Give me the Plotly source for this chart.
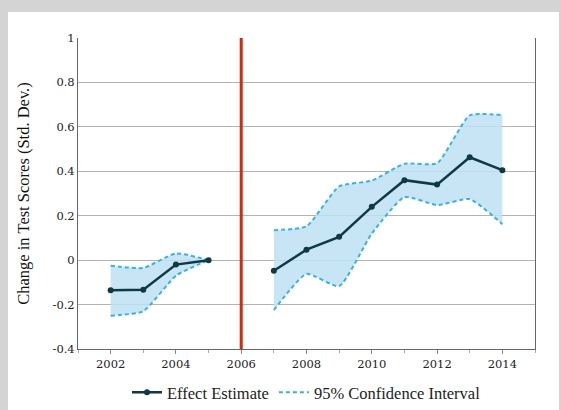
import plotly.graph_objects as go

# ---- data ----
years_pre = [2002, 2003, 2004, 2005]
effect_pre = [-0.135, -0.133, -0.02, 0.0]
upper_pre = [-0.025, -0.035, 0.03, 0.0]
lower_pre = [-0.25, -0.23, -0.07, 0.0]

years_post = [2007, 2008, 2009, 2010, 2011, 2012, 2013, 2014]
effect_post = [-0.048, 0.047, 0.105, 0.24, 0.36, 0.34, 0.463, 0.405]
upper_post = [0.135, 0.152, 0.332, 0.358, 0.434, 0.436, 0.652, 0.653]
lower_post = [-0.225, -0.062, -0.117, 0.12, 0.284, 0.248, 0.275, 0.162]

policy_year = 2006
x_ticks = [2002, 2004, 2006, 2008, 2010, 2012, 2014]
y_ticks = [-0.4, -0.2, 0, 0.2, 0.4, 0.6, 0.8, 1]
y_ticktext = ["-0.4", "-0.2", "0", "0.2", "0.4", "0.6", "0.8", "1"]

# ---- styling ----
FONT = "Liberation Serif"
TICKFONT = "DejaVu Serif"
CI_COLOR = "#35b3e3"
FILL = "rgba(190,224,243,0.85)"
EFF_COLOR = "#0f3946"
FRAME = "#d4d4d4"

fig = go.Figure()

segments = [(years_pre, effect_pre, upper_pre, lower_pre),
            (years_post, effect_post, upper_post, lower_post)]
for i, (yrs, eff, up, lo) in enumerate(segments):
    fig.add_trace(go.Scatter(x=yrs, y=up, mode="lines",
                             line=dict(color=CI_COLOR, width=2, dash="4px,3px", shape="spline", smoothing=0.5),
                             name="95% Confidence Interval", legendgroup="ci",
                             showlegend=(i == 0), hoverinfo="skip"))
    fig.add_trace(go.Scatter(x=yrs, y=lo, mode="lines", fill="tonexty", fillcolor=FILL,
                             line=dict(color=CI_COLOR, width=2, dash="4px,3px", shape="spline", smoothing=0.5),
                             name="95% Confidence Interval", legendgroup="ci",
                             showlegend=False, hoverinfo="skip"))
    fig.add_trace(go.Scatter(x=yrs, y=eff, mode="lines+markers",
                             line=dict(color=EFF_COLOR, width=2.5),
                             marker=dict(color=EFF_COLOR, size=6),
                             name="Effect Estimate", legendgroup="eff",
                             showlegend=(i == 0)))

# gray frame strips (left, top, right) around white page
L, R, T, B = 78, 26, 38, 61
W, H = 561, 410
pw, ph = W - L - R, H - T - B


def px_x(p):
    return (p - L) / pw


def px_y(p):
    return (H - B - p) / ph


for (xa, xb, ya, yb) in [(0, 8, 0, H), (0, W, 0, 12), (559, W, 0, H)]:
    fig.add_shape(type="rect", xref="paper", yref="paper", layer="below",
                  x0=px_x(xa), x1=px_x(xb), y0=px_y(yb), y1=px_y(ya),
                  fillcolor=FRAME, line=dict(width=0))
# policy line
fig.add_shape(type="line", xref="x", yref="paper", x0=policy_year, x1=policy_year,
              y0=0, y1=1, line=dict(color="#d42a0c", width=3), layer="above")

fig.update_layout(
    width=W, height=H,
    margin=dict(l=L, r=R, t=T, b=B, autoexpand=False),
    paper_bgcolor="white",
    plot_bgcolor="rgba(0,0,0,0)",
    font=dict(family=FONT, color="#222222"),
    showlegend=True,
    legend=dict(orientation="h", x=0.5, xanchor="center", y=-0.14, yanchor="middle",
                font=dict(size=16.5, family=FONT, color="#222"), traceorder="reversed",
                bgcolor="rgba(0,0,0,0)", itemwidth=30),
    xaxis=dict(range=[2001, 2015], tickvals=x_ticks, ticks="outside", ticklen=4,
               tickcolor="#888",
               minor=dict(dtick=1, tick0=2001, ticks="outside", ticklen=3, tickcolor="#aaa"),
               showgrid=False, showline=True, linecolor="#666",
               linewidth=1, zeroline=False,
               tickfont=dict(size=11.5, family=TICKFONT, color="#222")),
    yaxis=dict(range=[-0.4, 1], tickvals=y_ticks, ticktext=y_ticktext,
               showgrid=True, gridcolor="#b3b3b3", gridwidth=1,
               zeroline=False, showline=True, mirror=True, linecolor="#666", linewidth=1,
               ticks="", tickfont=dict(size=11.5, family=TICKFONT, color="#222"),
               title=dict(text="Change in Test Scores (Std. Dev.)",
                          font=dict(size=16.5, family=FONT, color="#111"), standoff=18)),
)

fig.write_html(
    "out.html",
    config={"displayModeBar": False},
    post_script=("document.body.style.margin='0';"
                 "document.body.style.overflow='hidden';"
                 "document.documentElement.style.overflow='hidden';"),
)
